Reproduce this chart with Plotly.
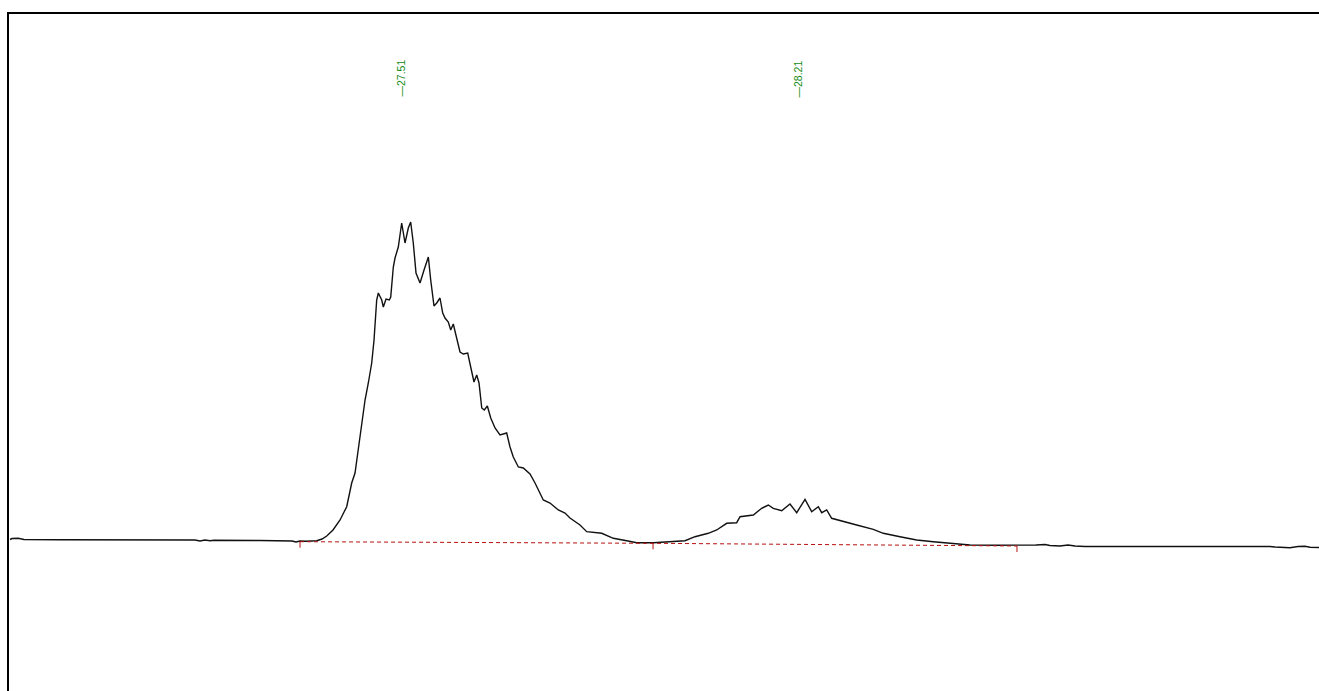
import plotly.graph_objects as go

# Chromatogram trace (time in min, signal in arbitrary units)
time_min = [
    26.8135, 26.8171, 26.8277, 26.8383, 26.9019, 27.0080, 27.1405, 27.1494, 27.1582, 27.1671,
    27.1741, 27.2554, 27.3120, 27.3191, 27.3262, 27.3368, 27.3557, 27.3650, 27.3734, 27.3845,
    27.3969, 27.4087, 27.4175, 27.4234, 27.4292, 27.4352, 27.4411, 27.4469, 27.4529, 27.4570,
    27.4617, 27.4646, 27.4706, 27.4734, 27.4782, 27.4840, 27.4865, 27.4911, 27.4941, 27.4999,
    27.5059, 27.5118, 27.5176, 27.5218, 27.5264, 27.5312, 27.5383, 27.5454, 27.5530, 27.5572,
    27.5630, 27.5678, 27.5736, 27.5784, 27.5825, 27.5883, 27.5926, 27.5971, 27.6032, 27.6090,
    27.6148, 27.6226, 27.6279, 27.6337, 27.6385, 27.6426, 27.6474, 27.6519, 27.6573, 27.6633,
    27.6709, 27.6797, 27.6915, 27.6974, 27.7032, 27.7121, 27.7209, 27.7327, 27.7416, 27.7562,
    27.7681, 27.7828, 27.7946, 27.8034, 27.8211, 27.8330, 27.8595, 27.8800, 27.9037, 27.9213,
    27.9507, 27.9772, 27.9891, 28.0067, 28.0244, 28.0479, 28.0628, 28.0804, 28.0981, 28.1040,
    28.1275, 28.1423, 28.1540, 28.1628, 28.1777, 28.1923, 28.2042, 28.2189, 28.2307, 28.2424,
    28.2484, 28.2572, 28.2660, 28.2866, 28.3102, 28.3396, 28.3573, 28.3868, 28.4163, 28.4457,
    28.4810, 28.5105, 28.5577, 28.5936, 28.6272, 28.6431, 28.6519, 28.6696, 28.6838, 28.6961,
    28.7138, 29.0408, 29.0497, 29.0762, 29.0903, 29.1027, 29.1116, 29.1275,
]
signal = [
    1.5, 2.5, 2.7, 1.5, 1.3, 1.2, 1.0, 0.0, 1.0, 0.2,
    0.8, 0.5, 0.0, -1.0, 0.0, -0.3, 0.3, 2.0, 5.0, 11.0,
    21.0, 34.3, 58.0, 68.0, 91.0, 114.0, 141.0, 158.0, 178.0, 201.0,
    241.0, 248.0, 241.0, 234.0, 242.0, 241.0, 244.0, 274.0, 283.0, 294.0,
    318.0, 298.0, 313.0, 319.0, 298.0, 268.0, 258.0, 271.0, 284.0, 261.0,
    235.0, 238.0, 243.0, 228.0, 223.0, 219.0, 211.0, 217.0, 201.0, 189.0,
    187.0, 188.0, 174.0, 159.0, 166.0, 158.0, 133.0, 131.0, 135.0, 123.0,
    113.0, 106.0, 108.0, 94.0, 84.0, 74.0, 73.0, 67.0, 58.0, 41.0,
    38.0, 31.0, 28.0, 23.0, 16.0, 9.3, 7.7, 2.7, 0.3, -1.7,
    -1.7, -0.7, 0.3, 0.3, 4.3, 7.7, 11.0, 17.7, 18.3, 24.3,
    26.0, 32.7, 36.0, 32.7, 30.3, 37.0, 28.3, 41.7, 29.3, 34.3,
    28.3, 31.0, 22.7, 19.3, 16.0, 11.7, 7.7, 4.3, 1.0, -0.7,
    -2.3, -4.0, -4.3, -4.3, -4.0, -3.5, -4.5, -5.0, -4.0, -5.0,
    -5.5, -5.5, -6.0, -6.7, -5.5, -5.3, -6.3, -6.5,
]

# Integration baseline points (start / valley / end)
baseline_time = [27.3262, 27.9502, 28.5936]
baseline_signal = [-0.7, -2.3, -5.0]
tick_depth = 6.0

# Peak labels
peak_times = [27.51, 28.21]
peak_labels = ["\u201427.51", "\u201428.21"]
label_level = 462.5

x_range = [26.8117, 29.1275]
y_range = [-150, 527]

fig = go.Figure()

fig.add_trace(go.Scatter(
    x=time_min, y=signal, mode="lines",
    line=dict(color="#111111", width=1.4),
    hoverinfo="skip", showlegend=False,
))

fig.add_trace(go.Scatter(
    x=baseline_time, y=baseline_signal, mode="lines",
    line=dict(color="#b81010", width=1, dash="4px,3px"),
    hoverinfo="skip", showlegend=False,
))

# Small vertical tick marks at baseline points
tx, ty = [], []
for t, b in zip(baseline_time, baseline_signal):
    tx += [t, t, None]
    ty += [b, b - tick_depth, None]
fig.add_trace(go.Scatter(
    x=tx, y=ty, mode="lines",
    line=dict(color="#b81010", width=1),
    hoverinfo="skip", showlegend=False,
))

for i, (t, lab) in enumerate(zip(peak_times, peak_labels)):
    fig.add_annotation(
        x=t, y=label_level, xref="x", yref="y",
        text=lab, showarrow=False, textangle=-90,
        xshift=-4 if i == 0 else -2,
        font=dict(family="Liberation Sans, Arial, sans-serif", size=10.5, color="#148a14"),
    )

fig.update_xaxes(
    range=x_range, side="top", showline=True, linecolor="black", linewidth=2,
    showgrid=False, zeroline=False, showticklabels=False, ticks="",
)
fig.update_yaxes(
    range=y_range, showline=True, linecolor="black", linewidth=2,
    showgrid=False, zeroline=False, showticklabels=False, ticks="",
)

fig.update_layout(
    width=1319, height=691,
    margin=dict(l=9, r=0, t=14, b=0, pad=0),
    paper_bgcolor="white", plot_bgcolor="white",
    showlegend=False,
)

fig.write_html(
    "out.html",
    config={"displayModeBar": False},
    post_script="document.body.style.margin='0';",
)
